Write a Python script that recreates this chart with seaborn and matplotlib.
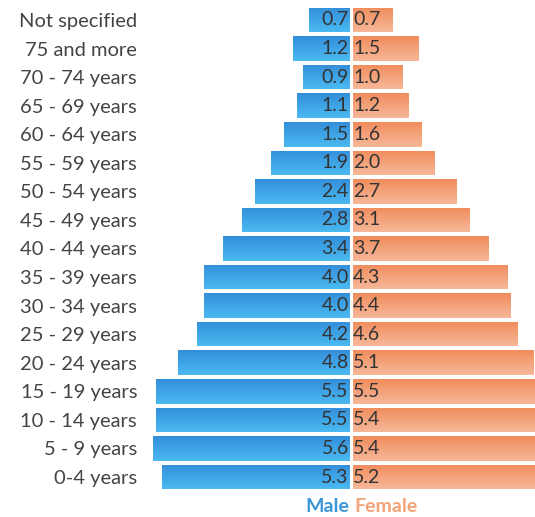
import numpy as np
import pandas as pd
import matplotlib
matplotlib.use("Agg")
import matplotlib.pyplot as plt
import seaborn as sns
from matplotlib.colors import LinearSegmentedColormap

categories = ["Not specified", "75 and more", "70 - 74 years", "65 - 69 years",
              "60 - 64 years", "55 - 59 years", "50 - 54 years", "45 - 49 years",
              "40 - 44 years", "35 - 39 years", "30 - 34 years", "25 - 29 years",
              "20 - 24 years", "15 - 19 years", "10 - 14 years", "5 - 9 years",
              "0-4 years"]
male = [0.7, 1.2, 0.9, 1.1, 1.5, 1.9, 2.4, 2.8, 3.4, 4.0, 4.0, 4.2, 4.8, 5.5, 5.5, 5.6, 5.3]
female = [0.7, 1.5, 1.0, 1.2, 1.6, 2.0, 2.7, 3.1, 3.7, 4.3, 4.4, 4.6, 5.1, 5.5, 5.4, 5.4, 5.2]

sns.set_style("white")
plt.rcParams['font.family'] = ['Lato', 'DejaVu Sans']

PAD = 0.6  # room reserved at the centre for the value labels
df = pd.DataFrame({"cat": categories, "male": male, "female": female})
df["male_x"] = -(df["male"] + PAD)
df["female_x"] = df["female"] + PAD

fig = plt.figure(figsize=(5.35, 5.17), dpi=100)
ax = fig.add_axes([153/535, 1 - 491.3/517, 1 - 153/535, (491.3 - 5.7)/517])

sns.barplot(data=df, x="male_x", y="cat", orient="h", color="#3d9fe3", width=0.86,
            edgecolor="white", linewidth=0.8, ax=ax)
sns.barplot(data=df, x="female_x", y="cat", orient="h", color="#f3a07a", width=0.86,
            edgecolor="white", linewidth=0.8, ax=ax)

ax.set_xlim(-198/32, 184/32)
ax.set_ylim(len(categories) - 0.5, -0.5)

# gradient fill for each bar
cm_m = LinearSegmentedColormap.from_list("m", ["#338ed9", "#4bbaf2"])
cm_f = LinearSegmentedColormap.from_list("f", ["#f08c5c", "#f7b899"])
grad = np.linspace(0, 1, 64).reshape(-1, 1)
for p in list(ax.patches):
    x0, y0 = p.get_x(), p.get_y()
    w, h = p.get_width(), p.get_height()
    if w == 0:
        continue
    cmap = cm_m if (x0 + w / 2) < 0 else cm_f
    xl, xr = min(x0, x0 + w), max(x0, x0 + w)
    yt, yb = min(y0, y0 + h), max(y0, y0 + h)
    im = ax.imshow(grad, cmap=cmap, aspect="auto", extent=[xl, xr, yb, yt],
                   origin="upper", zorder=p.get_zorder() + 0.1)
    im.set_clip_path(p)
ax.set_xlim(-198/32, 184/32)
ax.set_ylim(len(categories) - 0.5, -0.5)

# white divider at the centre
ax.axvline(0, color="white", lw=2.2, zorder=5)

for i, (m, f) in enumerate(zip(male, female)):
    ax.text(-0.07, i, f"{m:.1f}", ha="right", va="center", fontsize=14,
            color="#333333", zorder=6)
    ax.text(0.07, i, f"{f:.1f}", ha="left", va="center", fontsize=14,
            color="#333333", zorder=6)

ax.set_xlabel("")
ax.set_ylabel("")
ax.set_xticks([])
ax.tick_params(axis="y", length=0, pad=11.5, labelsize=14.5, labelcolor="#444444")
for s in ax.spines.values():
    s.set_visible(False)

fig.text(349/535, 1 - 506/517, "Male", ha="right", va="center", fontsize=14,
         fontweight="bold", color="#3a96d8")
fig.text(354/535, 1 - 506/517, "Female", ha="left", va="center", fontsize=14,
         fontweight="bold", color="#f2a378")

fig.savefig("out.png", dpi=100)
